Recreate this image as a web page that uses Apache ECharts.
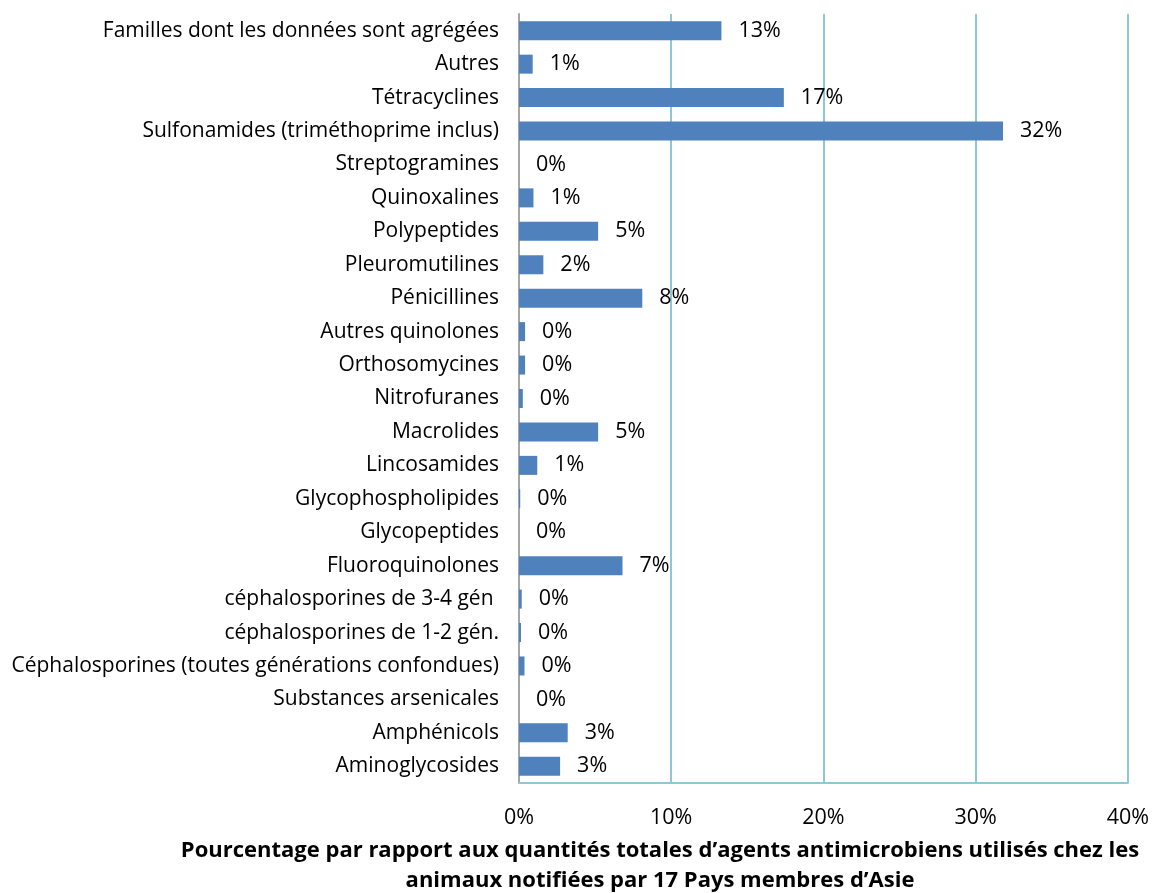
<!DOCTYPE html>
<html><head><meta charset="utf-8">
<script src="https://cdn.jsdelivr.net/npm/echarts@6/dist/echarts.min.js"></script>
<style>html,body{margin:0;padding:0;background:#fff}#c{width:1152px;height:893px}</style>
</head><body><div id="c"></div>
<script>
const categories = [
  "Familles dont les données sont agrégées",
  "Autres",
  "Tétracyclines",
  "Sulfonamides (triméthoprime inclus)",
  "Streptogramines",
  "Quinoxalines",
  "Polypeptides",
  "Pleuromutilines",
  "Pénicillines",
  "Autres quinolones",
  "Orthosomycines",
  "Nitrofuranes",
  "Macrolides",
  "Lincosamides",
  "Glycophospholipides",
  "Glycopeptides",
  "Fluoroquinolones",
  "céphalosporines de 3-4 gén ",
  "céphalosporines de 1-2 gén.",
  "Céphalosporines (toutes générations confondues)",
  "Substances arsenicales",
  "Amphénicols",
  "Aminoglycosides"
];
const values = [13.3, 0.9, 17.4, 31.8, 0, 0.95, 5.2, 1.6, 8.1, 0.4, 0.4, 0.25, 5.2, 1.2, 0.08, 0, 6.8, 0.18, 0.13, 0.36, 0, 3.2, 2.7];
const xTicks = [0, 10, 20, 30, 40];
const axisTitle = "Pourcentage par rapport aux quantités totales d’agents antimicrobiens utilisés chez les\nanimaux notifiées par 17 Pays membres d’Asie";

const FONT = "Open Sans";
const chart = echarts.init(document.getElementById('c'));
chart.setOption({
  animation: false,
  textStyle: {fontFamily: FONT},
  title: {
    text: axisTitle,
    left: 655, top: 831, textAlign: 'center',
    textStyle: {fontFamily: FONT, fontSize: 22, fontWeight: 'bold', color: '#000', lineHeight: 30}
  },
  grid: {left: 519, right: 24, top: 14, bottom: 110, containLabel: false},
  xAxis: {
    type: 'value', min: xTicks[0], max: xTicks[xTicks.length-1], interval: 10,
    axisLine: {show: true, lineStyle: {color: '#8CC8DA', width: 2}},
    axisTick: {show: false},
    splitLine: {show: true, lineStyle: {color: '#8CC8DA', width: 2}},
    axisLabel: {formatter: '{value}%', fontSize: 21.5, color: '#000', margin: 24, fontFamily: FONT}
  },
  yAxis: {
    type: 'category', data: categories, inverse: true,
    axisLine: {show: true, lineStyle: {color: '#A6A6A6', width: 2}},
    axisTick: {show: false},
    axisLabel: {fontSize: 21, color: '#000', margin: 20, fontFamily: FONT}
  },
  series: [{
    type: 'bar', data: values, barWidth: 19,
    itemStyle: {color: '#4F81BD'},
    label: {
      show: true, position: 'right', distance: 17, fontSize: 21.5, color: '#000', fontFamily: FONT,
      formatter: p => Math.round(p.value) + '%'
    }
  }]
});
</script></body></html>
